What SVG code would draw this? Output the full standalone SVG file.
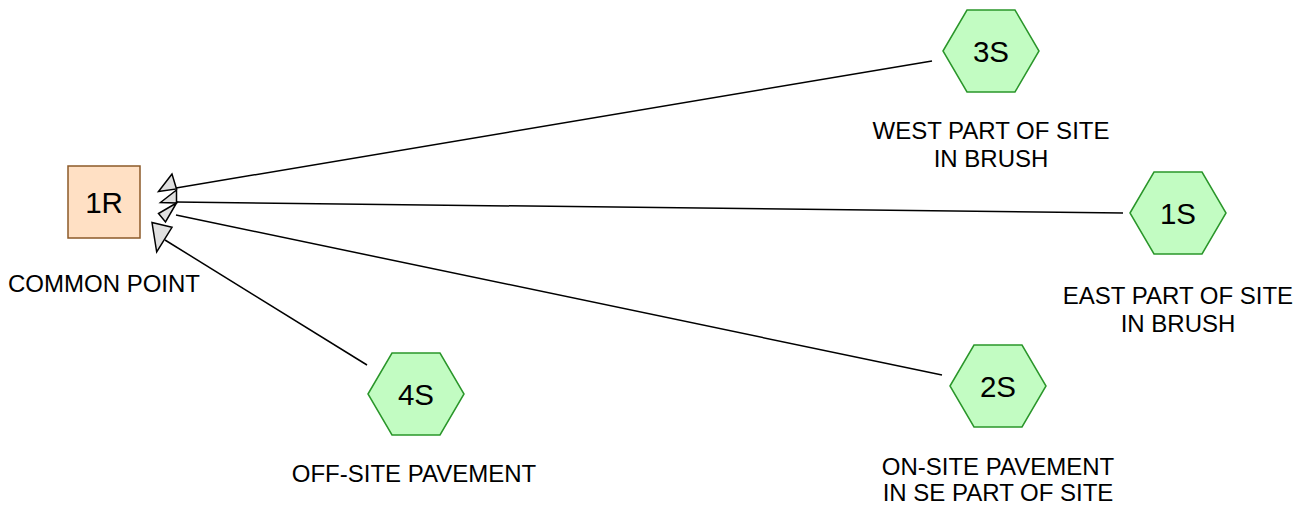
<svg xmlns="http://www.w3.org/2000/svg" width="1307" height="508" viewBox="0 0 1307 508">
<style>
.hex{fill:#c2fcc2;stroke:#2a962a;stroke-width:1.5}
.box{fill:#ffe0c4;stroke:#8c5a28;stroke-width:1.5}
.nl{font-family:"Liberation Sans",Arial,sans-serif;font-size:29.5px;fill:#000;text-anchor:middle}
.lb{font-family:"Liberation Sans",Arial,sans-serif;font-size:24px;fill:#000;text-anchor:middle}
.edge{stroke:#000;stroke-width:1.5;fill:none}
.ah{fill:#e0e0e0;stroke:#000;stroke-width:1.5;stroke-linejoin:miter}
</style>
<rect width="1307" height="508" fill="#fff"/>
<g id="connectors">
<line class="edge" x1="176" y1="188" x2="932" y2="61"/>
<line class="edge" x1="176" y1="202" x2="1123" y2="213"/>
<line class="edge" x1="176" y1="215" x2="942" y2="375"/>
<line class="edge" x1="165" y1="240" x2="367" y2="365"/>
<polygon class="ah" points="172,174 158.5,191.5 176.5,189"/>
<polygon class="ah" points="176.5,190 160.5,202.5 176.5,203"/>
<polygon class="ah" points="176.5,203 158.5,213.5 165.5,222"/>
<polygon class="ah" points="152,222.5 172,227.3 156.7,252"/>
</g>
<g id="n1R">
<rect class="box" x="68" y="166" width="72" height="72"/>
<text class="nl" x="104" y="212.5">1R</text>
<text class="lb" x="104" y="291.5">COMMON POINT</text>
</g>
<g id="n3S">
<polygon class="hex" points="943,51 967,10 1015,10 1039,51 1015,92 967,92"/>
<text class="nl" x="991" y="61.5">3S</text>
<text class="lb" x="991" y="139">WEST PART OF SITE</text>
<text class="lb" x="991" y="166.5">IN BRUSH</text>
</g>
<g id="n1S">
<polygon class="hex" points="1130,213 1154,172 1202,172 1226,213 1202,254 1154,254"/>
<text class="nl" x="1178" y="223.5">1S</text>
<text class="lb" x="1178" y="304">EAST PART OF SITE</text>
<text class="lb" x="1178" y="331.5">IN BRUSH</text>
</g>
<g id="n2S">
<polygon class="hex" points="950,386 974,345 1022,345 1046,386 1022,427 974,427"/>
<text class="nl" x="998" y="396.5">2S</text>
<text class="lb" x="998" y="474.5">ON-SITE PAVEMENT</text>
<text class="lb" x="998" y="501">IN SE PART OF SITE</text>
</g>
<g id="n4S">
<polygon class="hex" points="368,394 392,353 440,353 464,394 440,435 392,435"/>
<text class="nl" x="416" y="404.5">4S</text>
<text class="lb" x="414" y="482">OFF-SITE PAVEMENT</text>
</g>
</svg>
